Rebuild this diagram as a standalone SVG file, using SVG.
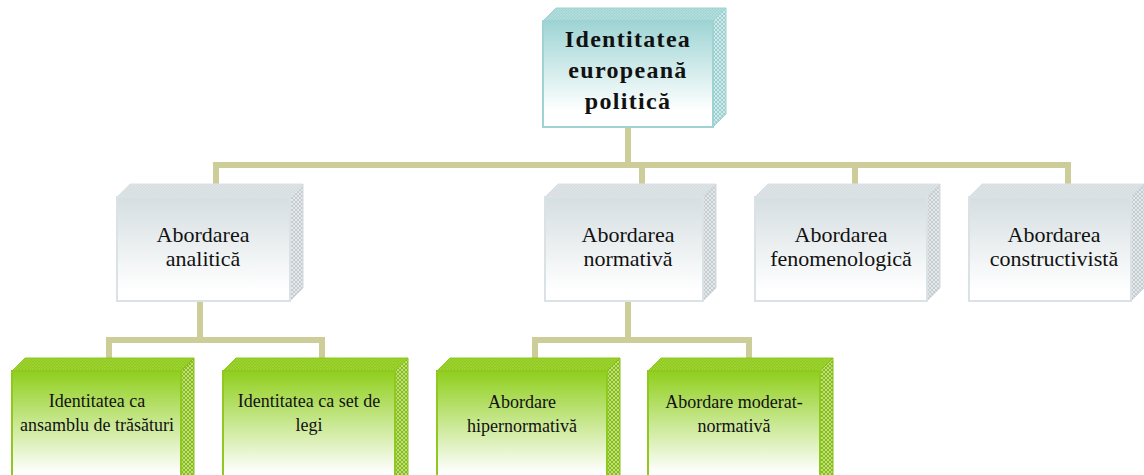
<svg xmlns="http://www.w3.org/2000/svg" width="1144" height="475" viewBox="0 0 1144 475">
<style>
.conn{fill:none;stroke:#cdcd99;stroke-width:6;stroke-linejoin:miter}
.t0{font-family:"Liberation Serif",serif;font-weight:bold;font-size:24px;letter-spacing:1.3px;fill:#111;text-anchor:middle}
.t1{font-family:"Liberation Serif",serif;font-size:22px;fill:#111;text-anchor:middle}
.t2{font-family:"Liberation Serif",serif;font-size:18px;fill:#111;text-anchor:middle}
.fTeal{fill:url(#gTeal);stroke:#9fd2d2;stroke-width:2}
.fGray{fill:url(#gGray);stroke:#dbe2e5;stroke-width:2}
.fGreen{fill:url(#gGreen);stroke:#8fc81e;stroke-width:2}
.topTeal{fill:url(#pTopTeal);stroke:#9fd2d2;stroke-width:1}
.sideTeal{fill:url(#pSideTeal);stroke:#9fd2d2;stroke-width:1}
.topGray{fill:url(#pTopGray);stroke:#dbe2e5;stroke-width:1}
.sideGray{fill:url(#pSideGray);stroke:#d2d9dc;stroke-width:1}
.topGreen{fill:url(#pTopGreen);stroke:#8fc81e;stroke-width:1}
.sideGreen{fill:url(#pSideGreen);stroke:#86bd18;stroke-width:1}
</style>
<defs>
<linearGradient id="gTeal" x1="0" y1="0" x2="0" y2="1"><stop offset="0" stop-color="#9ed4d4"/><stop offset="0.85" stop-color="#ffffff"/></linearGradient>
<linearGradient id="gGray" x1="0" y1="0" x2="0" y2="1"><stop offset="0" stop-color="#d5dee1"/><stop offset="0.9" stop-color="#ffffff"/></linearGradient>
<linearGradient id="gGreen" x1="0" y1="0" x2="0" y2="1"><stop offset="0" stop-color="#8fcf1c"/><stop offset="0.85" stop-color="#ffffff"/></linearGradient>
<pattern id="pTopTeal" width="3" height="3" patternUnits="userSpaceOnUse"><rect width="3" height="3" fill="#a3d5d5"/><path d="M0,0 L3,3 M3,0 L0,3" stroke="#bfe3e3" stroke-width="0.5"/></pattern>
<pattern id="pSideTeal" width="4" height="4" patternUnits="userSpaceOnUse"><rect width="4" height="4" fill="#9ccfcf"/><path d="M0,0 L4,4 M4,0 L0,4" stroke="#e6f4f4" stroke-width="0.7"/></pattern>
<pattern id="pTopGray" width="3" height="3" patternUnits="userSpaceOnUse"><rect width="3" height="3" fill="#d6dde0"/><path d="M0,0 L3,3 M3,0 L0,3" stroke="#e4e9eb" stroke-width="0.5"/></pattern>
<pattern id="pSideGray" width="4" height="4" patternUnits="userSpaceOnUse"><rect width="4" height="4" fill="#c6cdd0"/><path d="M0,0 L4,4 M4,0 L0,4" stroke="#f2f4f5" stroke-width="0.7"/></pattern>
<pattern id="pTopGreen" width="3" height="3" patternUnits="userSpaceOnUse"><rect width="3" height="3" fill="#90cb1c"/><path d="M0,0 L3,3 M3,0 L0,3" stroke="#a6d64a" stroke-width="0.5"/></pattern>
<pattern id="pSideGreen" width="4" height="4" patternUnits="userSpaceOnUse"><rect width="4" height="4" fill="#86be16"/><path d="M0,0 L4,4 M4,0 L0,4" stroke="#d8ecb0" stroke-width="0.7"/></pattern>
</defs>
<rect width="1144" height="475" fill="#ffffff"/>
<g id="connectors">
<path class="conn" d="M628,127 V165"/>
<path class="conn" d="M216,184 V165 H1068 V184"/>
<path class="conn" d="M642,165 V184"/>
<path class="conn" d="M855,165 V184"/>
<path class="conn" d="M200,301 V340"/>
<path class="conn" d="M109,358 V340 H322 V358"/>
<path class="conn" d="M628,301 V340"/>
<path class="conn" d="M535,358 V340 H749 V358"/>
</g>
<g id="node-root">
<polygon class="topTeal" points="543,21 556,8 726,8 713,21"/>
<polygon class="sideTeal" points="713,21 726,8 726,114 713,127"/>
<rect class="fTeal" x="543" y="21" width="170" height="106"/>
<text class="t0" x="628" y="47">Identitatea</text>
<text class="t0" x="628" y="78">europeană</text>
<text class="t0" x="628" y="109">politică</text>
</g>
<g id="node-analitica">
<polygon class="topGray" points="117,197 130,184 303,184 290,197"/>
<polygon class="sideGray" points="290,197 303,184 303,288 290,301"/>
<rect class="fGray" x="117" y="197" width="173" height="104"/>
<text class="t1" x="203" y="242">Abordarea</text>
<text class="t1" x="203" y="266">analitică</text>
</g>
<g id="node-normativa">
<polygon class="topGray" points="545,197 558,184 716,184 703,197"/>
<polygon class="sideGray" points="703,197 716,184 716,288 703,301"/>
<rect class="fGray" x="545" y="197" width="158" height="104"/>
<text class="t1" x="628" y="242">Abordarea</text>
<text class="t1" x="628" y="266">normativă</text>
</g>
<g id="node-fenomenologica">
<polygon class="topGray" points="755,197 768,184 940,184 927,197"/>
<polygon class="sideGray" points="927,197 940,184 940,288 927,301"/>
<rect class="fGray" x="755" y="197" width="172" height="104"/>
<text class="t1" x="841" y="242">Abordarea</text>
<text class="t1" x="841" y="266">fenomenologică</text>
</g>
<g id="node-constructivista">
<polygon class="topGray" points="969,197 982,184 1144,184 1131,197"/>
<polygon class="sideGray" points="1131,197 1144,184 1144,288 1131,301"/>
<rect class="fGray" x="969" y="197" width="162" height="104"/>
<text class="t1" x="1054" y="242">Abordarea</text>
<text class="t1" x="1054" y="266">constructivistă</text>
</g>
<g id="node-trasaturi">
<polygon class="topGreen" points="12,371 25,358 194,358 181,371"/>
<polygon class="sideGreen" points="181,371 194,358 194,480 181,490"/>
<rect class="fGreen" x="12" y="371" width="169" height="120"/>
<text class="t2" x="97" y="407">Identitatea ca</text>
<text class="t2" x="97" y="431">ansamblu de trăsături</text>
</g>
<g id="node-legi">
<polygon class="topGreen" points="223,371 236,358 408,358 395,371"/>
<polygon class="sideGreen" points="395,371 408,358 408,480 395,490"/>
<rect class="fGreen" x="223" y="371" width="172" height="120"/>
<text class="t2" x="309" y="407">Identitatea ca set de</text>
<text class="t2" x="309" y="431">legi</text>
</g>
<g id="node-hipernormativa">
<polygon class="topGreen" points="437,371 450,358 620,358 607,371"/>
<polygon class="sideGreen" points="607,371 620,358 620,480 607,490"/>
<rect class="fGreen" x="437" y="371" width="170" height="120"/>
<text class="t2" x="522" y="408">Abordare</text>
<text class="t2" x="522" y="432">hipernormativă</text>
</g>
<g id="node-moderat">
<polygon class="topGreen" points="648,371 661,358 833,358 820,371"/>
<polygon class="sideGreen" points="820,371 833,358 833,480 820,490"/>
<rect class="fGreen" x="648" y="371" width="172" height="120"/>
<text class="t2" x="734" y="408">Abordare moderat-</text>
<text class="t2" x="734" y="432">normativă</text>
</g>
</svg>
